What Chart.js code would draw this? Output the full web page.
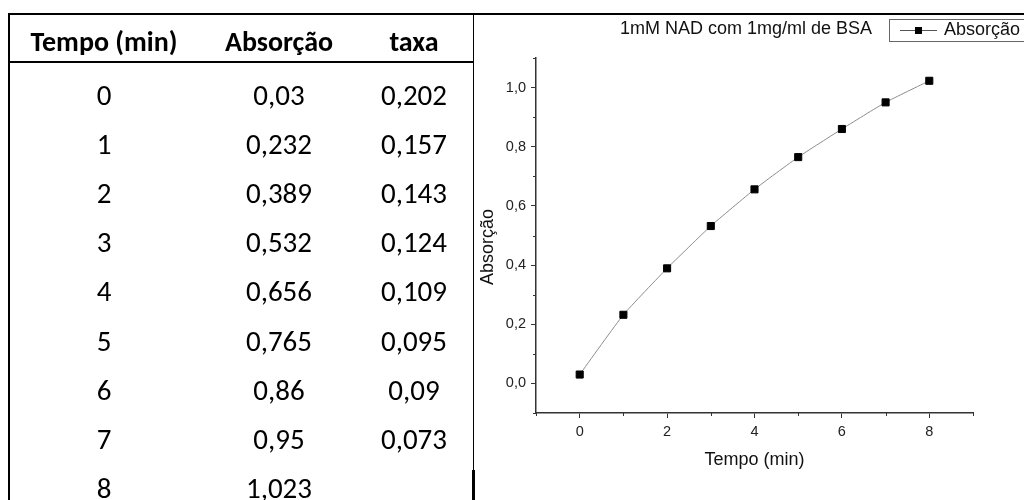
<!DOCTYPE html>
<html><head><meta charset="utf-8">
<script src="https://cdn.jsdelivr.net/npm/chart.js@4.4.1/dist/chart.umd.min.js"></script>
<style>
html,body{margin:0;padding:0;background:#fff;width:1024px;height:500px;overflow:hidden;}
#wrap{position:relative;width:1024px;height:500px;}
.ln{position:absolute;background:#000;}
.cell{position:absolute;width:170px;text-align:center;font-family:Carlito,Calibri,Lato,sans-serif;font-size:29px;color:#000;line-height:34px;white-space:nowrap;}
.hdr{font-weight:bold;font-size:28px;}
canvas{position:absolute;left:0;top:0;}
</style></head><body>
<div id="wrap">
<canvas id="c" width="1024" height="500"></canvas>
<div class="ln" style="left:8px;top:13px;width:1016px;height:2px;"></div>
<div class="ln" style="left:8px;top:13px;width:2px;height:487px;"></div>
<div class="ln" style="left:8px;top:61px;width:466px;height:2px;"></div>
<div class="ln" style="left:473px;top:13px;width:1px;height:457px;"></div>
<div class="ln" style="left:472px;top:470px;width:3px;height:30px;"></div>
</div>
<script>
// ---- data ----
const headers = ["Tempo (min)", "Absorção", "taxa"];
const tempo = [0, 1, 2, 3, 4, 5, 6, 7, 8];
const absorcao = [0.03, 0.232, 0.389, 0.532, 0.656, 0.765, 0.86, 0.95, 1.023];
const taxa = [0.202, 0.157, 0.143, 0.124, 0.109, 0.095, 0.09, 0.073, null];
const chartTitle = "1mM NAD com 1mg/ml de BSA";
const seriesName = "Absorção";
const xTitle = "Tempo (min)";
const yTitle = "Absorção";
const xMajor = [0, 2, 4, 6, 8];
const xMinor = [-1, 1, 3, 5, 7, 9];
const yMajor = [0, 0.2, 0.4, 0.6, 0.8, 1.0];
const yMinor = [-0.1, 0.1, 0.3, 0.5, 0.7, 0.9, 1.1];

// ---- table (HTML text) ----
const wrap = document.getElementById('wrap');
const colCenters = [104, 279, 414];
const fmt = v => (v === null || v === undefined) ? '' : String(v).replace('.', ',');
function cell(txt, cx, cy, cls) {
  const d = document.createElement('div');
  d.className = 'cell' + (cls ? ' ' + cls : '');
  d.textContent = txt;
  d.style.left = (cx - 85) + 'px';
  d.style.top = (cy - 17) + 'px';
  wrap.appendChild(d);
}
headers.forEach((h, j) => cell(h, colCenters[j], 42, 'hdr'));
tempo.forEach((t, i) => {
  const cy = 95 + i * 49.1;
  cell(fmt(t), colCenters[0], cy);
  cell(fmt(absorcao[i]), colCenters[1], cy);
  cell(fmt(taxa[i]), colCenters[2], cy);
});

// ---- chart ----
const AX = '#333';
const FONT = '"Liberation Sans", Arial, sans-serif';
const extras = {
  id: 'extras',
  afterDraw(chart) {
    const ctx = chart.ctx, xs = chart.scales.x, ys = chart.scales.y, a = chart.chartArea;
    ctx.save();
    ctx.strokeStyle = AX; ctx.lineWidth = 1;
    yMinor.forEach(v => {
      const p = Math.round(ys.getPixelForValue(v)) + 0.5;
      ctx.beginPath(); ctx.moveTo(a.left - 3, p); ctx.lineTo(a.left, p); ctx.stroke();
    });
    xMinor.forEach(v => {
      const p = Math.round(xs.getPixelForValue(v)) + 0.5;
      ctx.beginPath(); ctx.moveTo(p, a.bottom); ctx.lineTo(p, a.bottom + 3); ctx.stroke();
    });
    // chart title
    ctx.fillStyle = '#111';
    ctx.font = '18px ' + FONT;
    ctx.textAlign = 'center'; ctx.textBaseline = 'middle';
    ctx.fillText(chartTitle, 746, 29);
    // y-axis title
    ctx.save();
    ctx.translate(488, 247);
    ctx.rotate(-Math.PI / 2);
    ctx.fillText(yTitle, 0, 0);
    ctx.restore();
    // legend
    ctx.strokeStyle = '#666'; ctx.lineWidth = 1;
    ctx.strokeRect(889.5, 19.5, 200, 22);
    ctx.strokeStyle = '#555';
    ctx.beginPath(); ctx.moveTo(900, 30.5); ctx.lineTo(937, 30.5); ctx.stroke();
    ctx.fillStyle = '#000';
    ctx.fillRect(915, 27, 7, 7);
    ctx.fillStyle = '#111';
    ctx.font = '18px ' + FONT;
    ctx.textAlign = 'left';
    ctx.fillText(seriesName, 944, 30);
    ctx.restore();
  }
};

new Chart(document.getElementById('c'), {
  type: 'line',
  data: {
    datasets: [{
      label: seriesName,
      data: tempo.map((t, i) => ({x: t, y: absorcao[i]})),
      borderColor: '#8c8c8c',
      borderWidth: 1,
      tension: 0.15,
      pointStyle: 'rect',
      pointRadius: 5,
      pointBackgroundColor: '#000',
      pointBorderColor: '#000',
      pointBorderWidth: 1,
      fill: false
    }]
  },
  options: {
    responsive: false,
    animation: false,
    devicePixelRatio: 1,
    layout: {padding: {left: 476, right: 51, top: 58, bottom: 7}},
    plugins: {legend: {display: false}, tooltip: {enabled: false}, title: {display: false}},
    scales: {
      x: {
        type: 'linear', min: -1, max: 9,
        afterBuildTicks: s => { s.ticks = xMajor.map(v => ({value: v})); },
        afterFit: s => { s.height = 80; },
        grid: {display: true, drawOnChartArea: false, drawTicks: true, tickLength: 5, tickColor: AX, tickWidth: 1},
        border: {display: true, color: AX, width: 1.5},
        ticks: {color: '#222', font: {family: FONT, size: 14.5}, padding: 5, maxRotation: 0,
                callback: v => String(v)},
        title: {display: true, text: xTitle, color: '#111', font: {family: FONT, size: 18}, padding: {top: 0, bottom: 22}}
      },
      y: {
        type: 'linear', min: -0.1, max: 1.1,
        afterBuildTicks: s => { s.ticks = yMajor.map(v => ({value: v})); },
        afterFit: s => { s.width = 60; },
        grid: {display: true, drawOnChartArea: false, drawTicks: true, tickLength: 5, tickColor: AX, tickWidth: 1},
        border: {display: true, color: AX, width: 1.5},
        ticks: {color: '#222', font: {family: FONT, size: 14.5}, padding: 5,
                callback: v => v.toFixed(1).replace('.', ',')},
        title: {display: false}
      }
    }
  },
  plugins: [extras]
});
</script>
</body></html>
